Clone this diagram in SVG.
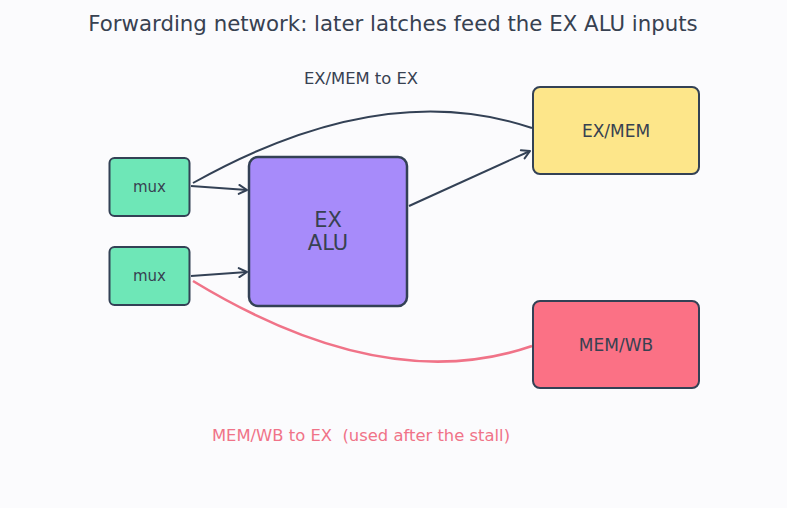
<svg xmlns="http://www.w3.org/2000/svg" width="787" height="508" viewBox="0 0 787 508">
<style>
text{font-family:"DejaVu Sans",sans-serif;fill:#374151;text-anchor:middle;dominant-baseline:central;white-space:pre}
.node rect{stroke:#334155;stroke-width:2}
.edge{fill:none;stroke:#334155;stroke-width:2}
</style>
<defs>
<marker id="arr" viewBox="0 0 12 12" refX="10" refY="6" markerWidth="12" markerHeight="12" markerUnits="userSpaceOnUse" orient="auto">
<path d="M2,1.5 L10,6 L2,10.5" fill="none" stroke="#334155" stroke-width="2" stroke-linecap="round" stroke-linejoin="round"/>
</marker>
</defs>
<rect width="787" height="508" fill="#fbfbfd"/>
<text x="393" y="23" font-size="21.3">Forwarding network: later latches feed the EX ALU inputs</text>
<g id="connectors">
<path class="edge" d="M191,186 L247,190" marker-end="url(#arr)"/>
<path class="edge" d="M191,276 L247,272" marker-end="url(#arr)"/>
<path class="edge" d="M409,206 L530,151" marker-end="url(#arr)"/>
<path class="edge" stroke-width="2.6" d="M532,128 Q382,77 193,183"/>
<path class="edge" style="stroke:#f07388;stroke-width:2.6" d="M532,346 Q384,397 193,281"/>
<text x="361" y="78" font-size="16.4">EX/MEM to EX</text>
<text x="361" y="435" font-size="16.4" style="fill:#f07388" xml:space="preserve">MEM/WB to EX  (used after the stall)</text>
</g>
<g id="mux1" class="node"><rect x="109.5" y="158" width="80" height="58" rx="5" fill="#6ee7b7"/><text x="149.5" y="187" font-size="15">mux</text></g>
<g id="mux2" class="node"><rect x="109.5" y="247" width="80" height="58" rx="5" fill="#6ee7b7"/><text x="149.5" y="276" font-size="15">mux</text></g>
<g id="alu" class="node"><rect x="249" y="157" width="158" height="149" rx="9" fill="#a78bfa" style="stroke-width:2.5"/><text x="328" y="220" font-size="21">EX</text><text x="328" y="243" font-size="21">ALU</text></g>
<g id="exmem" class="node"><rect x="533" y="87" width="166" height="87" rx="7" fill="#fde68a"/><text x="616" y="131" font-size="17">EX/MEM</text></g>
<g id="memwb" class="node"><rect x="533" y="301" width="166" height="87" rx="7" fill="#fb7185"/><text x="616" y="345" font-size="17">MEM/WB</text></g>
</svg>
